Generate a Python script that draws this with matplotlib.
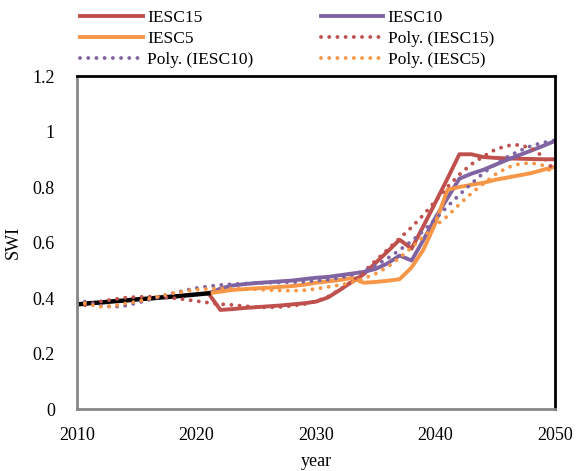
import matplotlib
matplotlib.use("Agg")
import matplotlib.pyplot as plt

plt.rcParams['font.family'] = ['Liberation Serif', 'DejaVu Serif']

# historical part (black line)
years_hist = list(range(2010, 2022))
swi_hist = [0.377, 0.381, 0.384, 0.388, 0.391, 0.395, 0.398, 0.402, 0.405, 0.409, 0.413, 0.417]

# scenarios 2021-2050
years_proj = list(range(2021, 2051))
iesc15 = [0.417, 0.357, 0.360, 0.364, 0.367, 0.370, 0.373, 0.377, 0.381, 0.387,
          0.402, 0.429, 0.458, 0.486, 0.527, 0.568, 0.610, 0.578, 0.660, 0.745,
          0.830, 0.918, 0.918, 0.908, 0.905, 0.903, 0.902, 0.901, 0.900, 0.900]
iesc10 = [0.417, 0.434, 0.445, 0.450, 0.454, 0.457, 0.460, 0.463, 0.468, 0.473,
          0.476, 0.482, 0.488, 0.494, 0.505, 0.525, 0.553, 0.535, 0.610, 0.690,
          0.760, 0.830, 0.848, 0.862, 0.880, 0.898, 0.915, 0.931, 0.948, 0.966]
iesc5 = [0.417, 0.423, 0.429, 0.432, 0.435, 0.437, 0.440, 0.443, 0.448, 0.455,
         0.460, 0.465, 0.472, 0.455, 0.458, 0.462, 0.468, 0.510, 0.575, 0.670,
         0.790, 0.800, 0.808, 0.815, 0.826, 0.834, 0.842, 0.850, 0.862, 0.873]

# polynomial trendlines, 2010-2050
years_poly = list(range(2010, 2051))
poly15 = [0.366, 0.378, 0.388, 0.395, 0.401, 0.404, 0.405, 0.404, 0.400, 0.395,
          0.389, 0.383, 0.378, 0.375, 0.371, 0.367, 0.366, 0.368, 0.372, 0.378,
          0.388, 0.405, 0.430, 0.460, 0.495, 0.535, 0.575, 0.615, 0.655, 0.700,
          0.750, 0.800, 0.845, 0.882, 0.910, 0.935, 0.949, 0.952, 0.940, 0.910,
          0.855]
poly10 = [0.396, 0.382, 0.372, 0.368, 0.372, 0.382, 0.393, 0.405, 0.417, 0.427,
          0.436, 0.442, 0.447, 0.450, 0.452, 0.454, 0.455, 0.456, 0.457, 0.459,
          0.462, 0.466, 0.473, 0.483, 0.497, 0.517, 0.543, 0.573, 0.605, 0.642,
          0.685, 0.730, 0.772, 0.812, 0.850, 0.882, 0.908, 0.930, 0.948, 0.960,
          0.968]
poly5 = [0.390, 0.376, 0.369, 0.371, 0.380, 0.387, 0.397, 0.407, 0.417, 0.424,
         0.430, 0.433, 0.434, 0.434, 0.433, 0.431, 0.429, 0.427, 0.426, 0.428,
         0.433, 0.440, 0.447, 0.456, 0.470, 0.488, 0.512, 0.545, 0.582, 0.622,
         0.660, 0.695, 0.738, 0.777, 0.812, 0.845, 0.870, 0.883, 0.887, 0.878,
         0.845]

red = '#C0504D'
purple = '#8064A2'
orange = '#F79646'
lw = 2.8
dots = (0, (0.01, 2.1))

fig = plt.figure(figsize=(5.76, 4.71), dpi=100)
ax = fig.add_axes([0.1337, 0.1316, 0.9635 - 0.1337, 0.8386 - 0.1316])

l15, = ax.plot(years_proj, iesc15, color=red, lw=lw, label='IESC15')
l10, = ax.plot(years_proj, iesc10, color=purple, lw=lw, label='IESC10')
l5, = ax.plot(years_proj, iesc5, color=orange, lw=lw, label='IESC5')
ax.plot(years_hist, swi_hist, color='black', lw=3.2)
p15, = ax.plot(years_poly, poly15, color=red, lw=lw, ls=dots,
               dash_capstyle='round', label='Poly. (IESC15)')
p10, = ax.plot(years_poly, poly10, color=purple, lw=lw, ls=dots,
               dash_capstyle='round', label='Poly. (IESC10)')
p5, = ax.plot(years_poly, poly5, color=orange, lw=lw, ls=dots,
              dash_capstyle='round', label='Poly. (IESC5)')

ax.set_xlim(2010, 2050)
ax.set_ylim(0, 1.2)
ax.set_xticks([2010, 2020, 2030, 2040, 2050])
ax.set_yticks([0, 0.2, 0.4, 0.6, 0.8, 1.0, 1.2])
ax.set_yticklabels(['0', '0.2', '0.4', '0.6', '0.8', '1', '1.2'])
ax.tick_params(length=0, labelsize=13)
ax.tick_params(axis='x', pad=13)
ax.tick_params(axis='y', pad=16)

for s in ['left', 'bottom']:
    ax.spines[s].set_color('#888888')
    ax.spines[s].set_linewidth(2)
for s in ['top', 'right']:
    ax.spines[s].set_color('black')
    ax.spines[s].set_linewidth(2)

ax.set_xlabel('year', fontsize=13)
ax.xaxis.set_label_coords(0.5, -0.132)
ax.set_ylabel('SWI', fontsize=13)
ax.yaxis.set_label_coords(-0.115, 0.5)

# Excel fills the legend row by row, matplotlib column by column
handles = [l15, l5, p10, l10, p15, p5]
fig.legend(handles=handles, labels=[h.get_label() for h in handles],
           ncol=2, loc='upper left', bbox_to_anchor=(80 / 576, 1 - 10 / 471),
           frameon=False, fontsize=12.5, handlelength=3.6, handletextpad=0.25,
           columnspacing=3.9, labelspacing=0.28, borderpad=0, borderaxespad=0)

fig.savefig('out.png', dpi=100)
